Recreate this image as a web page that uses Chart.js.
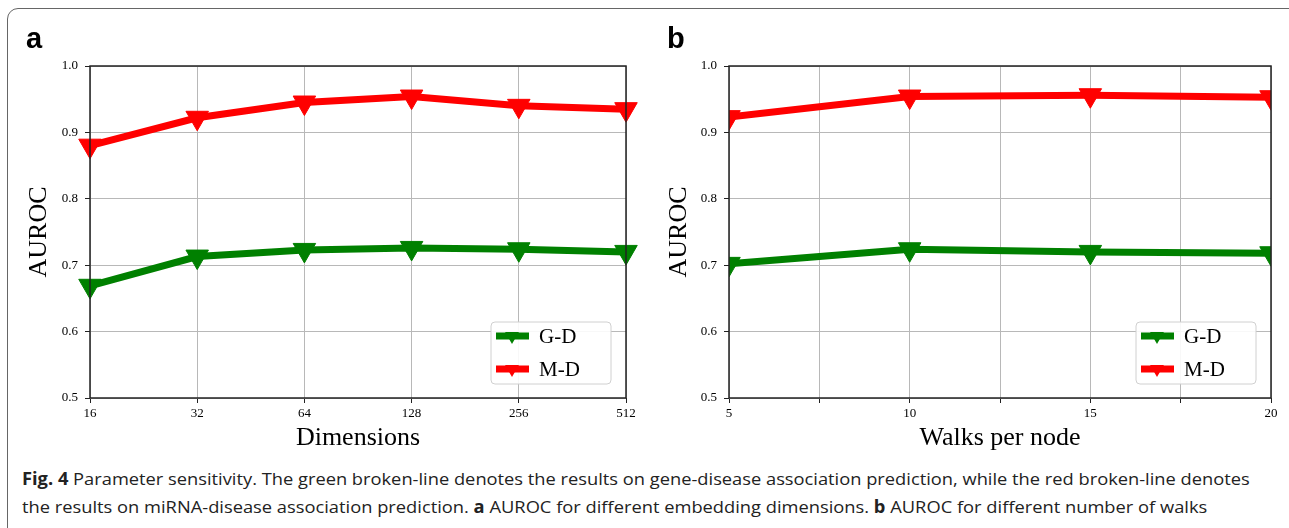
<!DOCTYPE html>
<html>
<head>
<meta charset="utf-8">
<script src="https://cdn.jsdelivr.net/npm/chart.js@4.4.1/dist/chart.umd.min.js"></script>
<style>
  html, body { margin: 0; padding: 0; background: #fff; }
  body { width: 1289px; height: 528px; position: relative; overflow: hidden; }
  .frame { position: absolute; left: 7px; top: 8px; width: 1320px; height: 560px;
           border: 1.5px solid #666; border-top-left-radius: 11px; box-sizing: border-box; }
  .wrap { position: absolute; top: 0; height: 460px; }
  .panel { position: absolute; font: bold 29px "Liberation Sans", Arial, sans-serif; color: #000; }
  .cap { position: absolute; left: 22px; white-space: nowrap; font: 17px "Open Sans", sans-serif;
         color: #222; transform-origin: 0 50%; }
  .cap b { font-weight: 700; }
</style>
</head>
<body>
<div class="frame"></div>
<div class="wrap" style="left:0;width:640px"><canvas id="chartA"></canvas></div>
<div class="wrap" style="left:640px;width:649px"><canvas id="chartB"></canvas></div>
<div class="panel" style="left:26px;top:22px">a</div>
<div class="panel" style="left:667px;top:22px">b</div>
<div class="cap" data-w="1228" style="top:467px"><b>Fig. 4</b> Parameter sensitivity. The green broken-line denotes the results on gene-disease association prediction, while the red broken-line denotes</div>
<div class="cap" data-w="1185" style="top:495px">the results on miRNA-disease association prediction. <b>a</b> AUROC for different embedding dimensions. <b>b</b> AUROC for different number of walks</div>
<script>
// values
const dimLabels = ['16', '32', '64', '128', '256', '512'];
const dimGD = [0.669, 0.713, 0.723, 0.726, 0.724, 0.720];
const dimMD = [0.880, 0.922, 0.945, 0.954, 0.940, 0.935];

const walkValues = [5, 10, 15, 20];
const walkGD = [0.702, 0.724, 0.720, 0.718];
const walkMD = [0.923, 0.954, 0.956, 0.953];

const seriesNames = ['G-D', 'M-D'];
const seriesColors = ['#008000', '#ff0000'];

const serif = '"Liberation Serif", "Times New Roman", serif';

// full box around the plot + matplotlib-like legend in lower right
const boxAndLegend = {
    id: 'boxAndLegend',
    afterDraw(chart) {
        const ctx = chart.ctx;
        const a = chart.chartArea;
        ctx.save();
        ctx.strokeStyle = '#222';
        ctx.lineWidth = 1.5;
        ctx.strokeRect(a.left, a.top, a.right - a.left, a.bottom - a.top);

        const w = 120, h = 62;
        const x = a.right - 15 - w, y = a.bottom - 14 - h;
        ctx.fillStyle = 'rgba(255,255,255,0.9)';
        ctx.strokeStyle = '#d0d0d0';
        ctx.lineWidth = 1;
        ctx.beginPath();
        ctx.roundRect(x, y, w, h, 4);
        ctx.fill();
        ctx.stroke();

        chart.data.datasets.forEach((ds, i) => {
            const cy = y + 14 + i * 33;
            ctx.strokeStyle = ds.borderColor;
            ctx.lineWidth = ds.borderWidth;
            ctx.beginPath();
            ctx.moveTo(x + 5, cy);
            ctx.lineTo(x + 38, cy);
            ctx.stroke();
            // downward triangle marker
            const r = 8, cx = x + 21;
            ctx.fillStyle = ds.borderColor;
            ctx.beginPath();
            ctx.moveTo(cx - r * 0.87, cy - r * 0.5);
            ctx.lineTo(cx + r * 0.87, cy - r * 0.5);
            ctx.lineTo(cx, cy + r);
            ctx.closePath();
            ctx.fill();
            ctx.fillStyle = '#000';
            ctx.font = '21px ' + serif;
            ctx.textBaseline = 'middle';
            ctx.textAlign = 'left';
            ctx.fillText(ds.label, x + 48, cy + 1);
        });
        ctx.restore();
    }
};

function makeDataset(label, color, data) {
    return {
        label: label,
        data: data,
        borderColor: color,
        backgroundColor: color,
        borderWidth: 7,
        pointStyle: 'triangle',
        rotation: 180,
        pointRadius: 13,
        pointBackgroundColor: color,
        pointBorderColor: color,
        pointBorderWidth: 1,
        tension: 0
    };
}

function yScale(width) {
    return {
        min: 0.5,
        max: 1.0,
        afterFit: s => { s.width = width; },
        ticks: {
            stepSize: 0.1,
            color: '#000',
            padding: 7,
            font: { family: serif, size: 13 },
            callback: v => Number(v).toFixed(1)
        },
        grid: { color: '#b8b8b8', lineWidth: 1, tickLength: 5, tickColor: '#222' },
        border: { display: false },
        title: {
            display: true, text: 'AUROC', color: '#000',
            font: { family: serif, size: 26 },
            padding: { top: 24, bottom: 0 }
        }
    };
}

function xCommon(titleText) {
    return {
        afterFit: s => { s.height = 62; },
        grid: { color: '#b8b8b8', lineWidth: 1, tickLength: 5, tickColor: '#222' },
        border: { display: false },
        title: {
            display: true, text: titleText, color: '#000',
            font: { family: serif, size: 26 },
            padding: { top: 0, bottom: 6 }
        }
    };
}

const commonOptions = {
    responsive: true,
    maintainAspectRatio: false,
    animation: false,
    events: [],
    plugins: { legend: { display: false }, tooltip: { enabled: false } }
};

// panel a: embedding dimensions
const xA = xCommon('Dimensions');
xA.type = 'category';
xA.offset = false;
xA.ticks = { color: '#000', padding: 3, maxRotation: 0, font: { family: serif, size: 13 } };

new Chart(document.getElementById('chartA'), {
    type: 'line',
    data: {
        labels: dimLabels,
        datasets: [
            makeDataset(seriesNames[0], seriesColors[0], dimGD),
            makeDataset(seriesNames[1], seriesColors[1], dimMD)
        ]
    },
    options: Object.assign({}, commonOptions, {
        layout: { padding: { top: 66, right: 13, left: 0, bottom: 0 } },
        scales: { x: xA, y: yScale(90) }
    }),
    plugins: [boxAndLegend]
});

// panel b: walks per node
const xB = xCommon('Walks per node');
xB.type = 'linear';
xB.min = 5;
xB.max = 20;
xB.ticks = {
    stepSize: 2.5, color: '#000', padding: 3, maxRotation: 0, autoSkip: false,
    font: { family: serif, size: 13 },
    callback: v => Number.isInteger(v) ? String(v) : ''
};

new Chart(document.getElementById('chartB'), {
    type: 'line',
    data: {
        datasets: [
            makeDataset(seriesNames[0], seriesColors[0], walkValues.map((w, i) => ({ x: w, y: walkGD[i] }))),
            makeDataset(seriesNames[1], seriesColors[1], walkValues.map((w, i) => ({ x: w, y: walkMD[i] })))
        ]
    },
    options: Object.assign({}, commonOptions, {
        layout: { padding: { top: 66, right: 18, left: 0, bottom: 0 } },
        scales: { x: xB, y: yScale(89) }
    }),
    plugins: [boxAndLegend]
});

// squeeze caption lines to the width they have in the figure
document.querySelectorAll('.cap').forEach(el => {
    const target = Number(el.dataset.w);
    const actual = el.scrollWidth;
    if (actual > 0) el.style.transform = 'scaleX(' + (target / actual) + ')';
});
</script>
</body>
</html>
